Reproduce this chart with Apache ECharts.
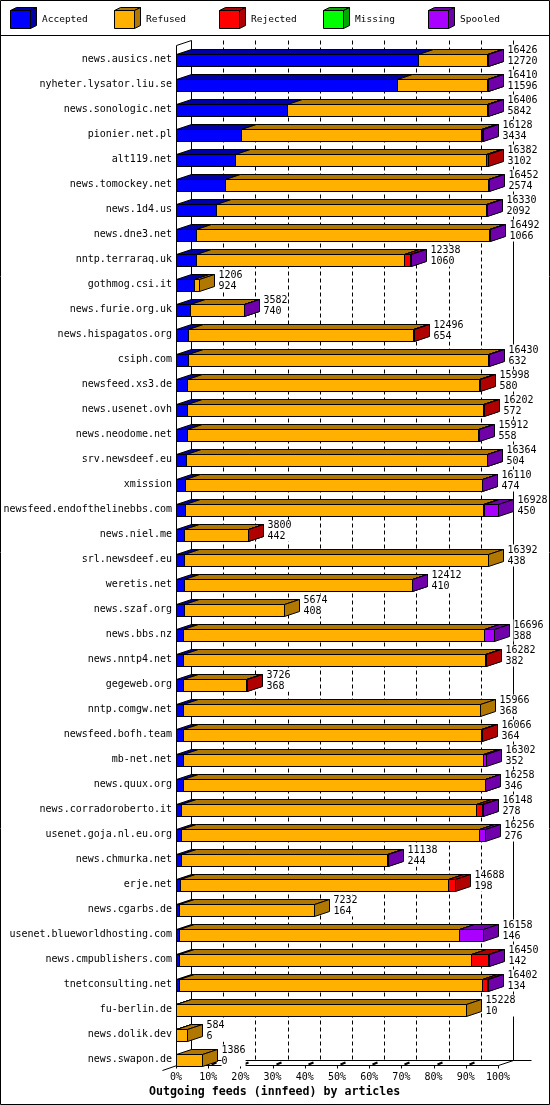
<!DOCTYPE html>
<html>
<head>
<meta charset="utf-8">
<script src="https://cdn.jsdelivr.net/npm/echarts@6/dist/echarts.min.js"></script>
<style>
html,body{margin:0;padding:0;background:#fff;}
#chart{width:550px;height:1105px;}
</style>
</head>
<body>
<div id="chart"></div>
<script>
const hosts = ['news.ausics.net','nyheter.lysator.liu.se','news.sonologic.net','pionier.net.pl','alt119.net','news.tomockey.net','news.1d4.us','news.dne3.net','nntp.terraraq.uk','gothmog.csi.it','news.furie.org.uk','news.hispagatos.org','csiph.com','newsfeed.xs3.de','news.usenet.ovh','news.neodome.net','srv.newsdeef.eu','xmission','newsfeed.endofthelinebbs.com','news.niel.me','srl.newsdeef.eu','weretis.net','news.szaf.org','news.bbs.nz','news.nntp4.net','gegeweb.org','nntp.comgw.net','newsfeed.bofh.team','mb-net.net','news.quux.org','news.corradoroberto.it','usenet.goja.nl.eu.org','news.chmurka.net','erje.net','news.cgarbs.de','usenet.blueworldhosting.com','news.cmpublishers.com','tnetconsulting.net','fu-berlin.de','news.dolik.dev','news.swapon.de'];

const totals = [16426,16410,16406,16128,16382,16452,16330,16492,12338,1206,3582,12496,16430,15998,16202,15912,16364,16110,16928,3800,16392,12412,5674,16696,16282,3726,15966,16066,16302,16258,16148,16256,11138,14688,7232,16158,16450,16402,15228,584,1386];

const accepted = [12720,11596,5842,3434,3102,2574,2092,1066,1060,924,740,654,632,580,572,558,504,474,450,442,438,410,408,388,382,368,368,364,352,346,278,276,244,198,164,146,142,134,10,6,0];

const refused = [3616,4754,10484,12614,13200,13848,14208,15366,10908,282,2812,11802,15768,15358,15570,15324,15830,15606,15678,3318,15954,11972,5266,15783,15840,3318,15598,15652,15790,15892,15490,15630,10864,14120,7068,14752,15368,15948,15218,578,1386];

const rejected = [60,30,40,40,80,0,0,0,350,0,0,40,0,60,60,0,0,0,60,40,0,0,0,0,60,40,0,50,0,0,300,0,0,370,0,0,900,290,0,0,0];

const missing = [0,0,0,0,0,0,0,0,0,0,0,0,0,0,0,0,0,0,0,0,0,0,0,0,0,0,0,0,0,0,0,0,0,0,0,0,0,0,0,0,0];

const spooled = [30,30,40,40,0,30,30,60,20,0,30,0,30,0,0,30,30,30,740,0,0,30,0,525,0,0,0,0,160,20,80,350,30,0,0,1260,40,30,0,0,0];

const seriesNames = ['Accepted','Refused','Rejected','Missing','Spooled'];
const xTicks = [0,10,20,30,40,50,60,70,80,90,100];
const xTitle = 'Outgoing feeds (innfeed) by articles';

const frontColors = ['#0000ff','#ffb000','#ff0000','#00ff00','#aa00ff'];
const darkColors  = ['#0000a8','#b07800','#b00000','#00a800','#7000aa'];
const DX = 15, DY = 5, HALF = 6;
const FONT = '"DejaVu Sans Mono", monospace';
const MAX = Math.max.apply(null, totals);
const p = v => Math.round(v) + 0.5;

const barData = hosts.map((h, i) => [totals[i] / MAX * 100, i, accepted[i], refused[i], rejected[i], missing[i], spooled[i], totals[i]]);

function renderBar(params, api) {
  const row = api.value(1);
  const vals = [api.value(2), api.value(3), api.value(4), api.value(5), api.value(6)];
  const cy = api.coord([0, row])[1];
  const top = p(cy - HALF), bot = p(cy + HALF);
  const children = [];
  let cum = 0;
  let xEnd = api.coord([0, row])[0];
  for (let k = 0; k < 5; k++) {
    const v = vals[k];
    if (!(v > 0)) continue;
    const x0 = p(api.coord([cum / MAX * 100, row])[0]);
    cum += v;
    const x1 = p(api.coord([cum / MAX * 100, row])[0]);
    xEnd = x1;
    const st = (f) => ({ fill: f, stroke: '#000', lineWidth: 1 });
    children.push({ type: 'polygon', shape: { points: [[x0, top], [x1, top], [x1, bot], [x0, bot]] }, style: st(frontColors[k]) });
    children.push({ type: 'polygon', shape: { points: [[x0, top], [x0 + DX, top - DY], [x1 + DX, top - DY], [x1, top]] }, style: st(darkColors[k]) });
    children.push({ type: 'polygon', shape: { points: [[x1, top], [x1 + DX, top - DY], [x1 + DX, bot - DY], [x1, bot]] }, style: st(darkColors[k]) });
  }
  children.push({
    type: 'text', x: xEnd + DX + 4, y: cy - 15,
    style: { text: api.value(7) + '\n' + api.value(2), fill: '#000', font: '10px ' + FONT, lineHeight: 11, backgroundColor: '#fff', align: 'left', verticalAlign: 'top' }
  });
  return { type: 'group', children };
}

function renderFrame(params, api) {
  const n = hosts.length;
  const c0 = api.coord([0, 0])[1];
  const cN = api.coord([0, n - 1])[1];
  const backTop = Math.round(c0 - 19.5);
  const floorFront = Math.round(cN + 5);
  const floorBack = floorFront - DY;
  const X = v => p(api.coord([v, 0])[0]);
  const x0 = X(0), x100 = X(100);
  const ch = [];
  const line = (a, b, c, d, extra) => ch.push({ type: 'line', shape: { x1: a, y1: b, x2: c, y2: d }, style: Object.assign({ stroke: '#000', lineWidth: 1 }, extra || {}) });
  xTicks.forEach(t => {
    const xb = X(t) + DX;
    if (t === 0 || t === 100) line(xb, backTop + 0.5, xb, floorBack + 0.5);
    else line(xb, backTop + 0.5, xb, floorBack + 0.5, { lineDash: [4, 3] });
  });
  line(x0, backTop + DY + 0.5, x0, floorFront + 0.5);
  line(x0, backTop + DY + 0.5, x0 + DX, backTop + 0.5);
  line(x0, floorFront + 0.5, x100, floorFront + 0.5);
  line(x0 + DX, floorBack + 0.5, x100 + DX + 18, floorBack + 0.5);
  line(x0 - 14, floorFront + 5.5, x0 + DX, floorBack + 0.5);
  line(x100, floorFront + 0.5, x100 + DX, floorBack + 0.5);
  xTicks.forEach(t => {
    const x = X(t);
    line(x, floorFront + 0.5, x, floorFront + 3.5);
    if (t > 0 && t < 100) line(x + 3, floorFront - 0.5, x + 8, floorFront - 2.5, { lineWidth: 2 });
  });
  return { type: 'group', children: ch };
}

const legendX = [10, 114, 219, 323, 428];
const legendGraphics = [];
seriesNames.forEach((name, k) => {
  const x = legendX[k] + 0.5;
  const st = (f) => ({ fill: f, stroke: '#000', lineWidth: 1 });
  legendGraphics.push({ type: 'polygon', shape: { points: [[x, 10.5], [x + 20, 10.5], [x + 20, 28.5], [x, 28.5]] }, style: st(frontColors[k]) });
  legendGraphics.push({ type: 'polygon', shape: { points: [[x, 10.5], [x + 6, 7.5], [x + 26, 7.5], [x + 20, 10.5]] }, style: st(darkColors[k]) });
  legendGraphics.push({ type: 'polygon', shape: { points: [[x + 20, 10.5], [x + 26, 7.5], [x + 26, 25.5], [x + 20, 28.5]] }, style: st(darkColors[k]) });
  legendGraphics.push({ type: 'text', x: legendX[k] + 32, y: 20, style: { text: name, fill: '#000', font: '9.5px ' + FONT, verticalAlign: 'middle' } });
});

const chart = echarts.init(document.getElementById('chart'), null, { renderer: 'canvas' });
chart.setOption({
  animation: false,
  backgroundColor: '#fff',
  grid: { left: 176, right: 52, top: 47, bottom: 33, containLabel: false },
  xAxis: {
    type: 'value', min: 0, max: 100, interval: 10,
    axisLine: { show: false }, axisTick: { show: false }, splitLine: { show: false },
    axisLabel: { formatter: '{value}%', margin: 0, fontSize: 10, fontFamily: FONT, color: '#000' }
  },
  yAxis: {
    type: 'category', data: hosts, inverse: true,
    axisLine: { show: false }, axisTick: { show: false }, splitLine: { show: false },
    axisLabel: { margin: 4, fontSize: 10, fontFamily: FONT, color: '#000' }
  },
  graphic: [
    { type: 'rect', shape: { x: 0.5, y: 0.5, width: 549, height: 1104 }, style: { fill: 'none', stroke: '#000', lineWidth: 1 }, z: 100 },
    { type: 'line', shape: { x1: 0, y1: 35.5, x2: 550, y2: 35.5 }, style: { stroke: '#000', lineWidth: 1 } },
    { type: 'text', x: 149, y: 1092, style: { text: xTitle, fill: '#000', font: 'bold 11.6px ' + FONT, verticalAlign: 'middle' } }
  ].concat(legendGraphics),
  series: [
    { type: 'custom', name: 'frame', renderItem: renderFrame, data: [[0, 0]], encode: { x: 0, y: 1 }, clip: false, silent: true, z: 1 },
    { type: 'custom', name: 'bars', renderItem: renderBar, data: barData, encode: { x: 0, y: 1 }, clip: false, silent: true, z: 2 }
  ]
});
</script>
</body>
</html>
